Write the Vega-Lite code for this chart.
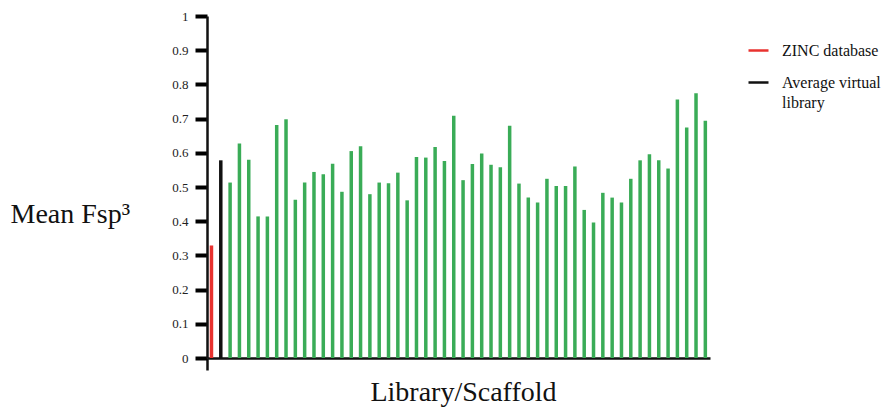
{
  "$schema": "https://vega.github.io/schema/vega-lite/v6.json",
  "width": 503,
  "height": 342,
  "autosize": {"type": "none"},
  "padding": {"left": 207, "top": 16, "right": 179, "bottom": 50},
  "background": "white",
  "config": {
    "view": {"stroke": null},
    "font": "Liberation Serif",
    "axisY": {"tickColor": "#000000", "tickSize": 12, "tickWidth": 4, "ticks": true, "tickOpacity": 1}
  },
  "data": {
    "values": [
      {"i": 0, "value": 0.329, "type": "ZINC database"},
      {"i": 1, "value": 0.578, "type": "Average virtual library"},
      {"i": 2, "value": 0.513, "type": "Library"},
      {"i": 3, "value": 0.627, "type": "Library"},
      {"i": 4, "value": 0.580, "type": "Library"},
      {"i": 5, "value": 0.414, "type": "Library"},
      {"i": 6, "value": 0.414, "type": "Library"},
      {"i": 7, "value": 0.681, "type": "Library"},
      {"i": 8, "value": 0.698, "type": "Library"},
      {"i": 9, "value": 0.463, "type": "Library"},
      {"i": 10, "value": 0.513, "type": "Library"},
      {"i": 11, "value": 0.544, "type": "Library"},
      {"i": 12, "value": 0.537, "type": "Library"},
      {"i": 13, "value": 0.568, "type": "Library"},
      {"i": 14, "value": 0.486, "type": "Library"},
      {"i": 15, "value": 0.605, "type": "Library"},
      {"i": 16, "value": 0.619, "type": "Library"},
      {"i": 17, "value": 0.479, "type": "Library"},
      {"i": 18, "value": 0.513, "type": "Library"},
      {"i": 19, "value": 0.511, "type": "Library"},
      {"i": 20, "value": 0.542, "type": "Library"},
      {"i": 21, "value": 0.461, "type": "Library"},
      {"i": 22, "value": 0.588, "type": "Library"},
      {"i": 23, "value": 0.586, "type": "Library"},
      {"i": 24, "value": 0.617, "type": "Library"},
      {"i": 25, "value": 0.576, "type": "Library"},
      {"i": 26, "value": 0.708, "type": "Library"},
      {"i": 27, "value": 0.520, "type": "Library"},
      {"i": 28, "value": 0.567, "type": "Library"},
      {"i": 29, "value": 0.598, "type": "Library"},
      {"i": 30, "value": 0.565, "type": "Library"},
      {"i": 31, "value": 0.558, "type": "Library"},
      {"i": 32, "value": 0.679, "type": "Library"},
      {"i": 33, "value": 0.510, "type": "Library"},
      {"i": 34, "value": 0.469, "type": "Library"},
      {"i": 35, "value": 0.455, "type": "Library"},
      {"i": 36, "value": 0.524, "type": "Library"},
      {"i": 37, "value": 0.503, "type": "Library"},
      {"i": 38, "value": 0.503, "type": "Library"},
      {"i": 39, "value": 0.560, "type": "Library"},
      {"i": 40, "value": 0.433, "type": "Library"},
      {"i": 41, "value": 0.396, "type": "Library"},
      {"i": 42, "value": 0.483, "type": "Library"},
      {"i": 43, "value": 0.469, "type": "Library"},
      {"i": 44, "value": 0.455, "type": "Library"},
      {"i": 45, "value": 0.524, "type": "Library"},
      {"i": 46, "value": 0.578, "type": "Library"},
      {"i": 47, "value": 0.596, "type": "Library"},
      {"i": 48, "value": 0.578, "type": "Library"},
      {"i": 49, "value": 0.554, "type": "Library"},
      {"i": 50, "value": 0.756, "type": "Library"},
      {"i": 51, "value": 0.674, "type": "Library"},
      {"i": 52, "value": 0.774, "type": "Library"},
      {"i": 53, "value": 0.694, "type": "Library"}
    ]
  },
  "mark": {"type": "bar", "size": 3.5},
  "encoding": {
    "x": {
      "field": "i",
      "type": "quantitative",
      "scale": {"domain": [-0.48, 53.5], "nice": false, "zero": false, "padding": 0},
      "axis": {
        "values": [-0.48],
        "labels": false,
        "grid": false,
        "domainColor": "#111",
        "domainWidth": 2.5,
        "ticks": true,
        "tickColor": "#111",
        "tickWidth": 2.5,
        "tickSize": 12,
        "title": "Library/Scaffold",
        "titleFont": "Liberation Serif",
        "titleFontSize": 28,
        "titleFontWeight": "normal",
        "titleColor": "#111",
        "titleBaseline": "alphabetic",
        "titleAlign": "center",
        "titleAnchor": null,
        "titleX": 256,
        "titleY": 42
      }
    },
    "y": {
      "field": "value",
      "type": "quantitative",
      "stack": null,
      "scale": {"domain": [0, 1], "nice": false},
      "axis": {
        "tickCount": 10,
        "format": ".1~f",
        "grid": false,
        "domainColor": "#111",
        "domainWidth": 2.5,
        "labelFont": "Liberation Serif",
        "labelFontSize": 13,
        "labelColor": "#222",
        "labelPadding": 7,
        "title": "Mean Fsp³",
        "titleFont": "Liberation Serif",
        "titleFontSize": 28,
        "titleFontWeight": "normal",
        "titleColor": "#111",
        "titleAngle": 0,
        "titleAlign": "left",
        "titleBaseline": "alphabetic",
        "titleAnchor": null,
        "titleX": -197,
        "titleY": 206
      }
    },
    "color": {
      "field": "type",
      "type": "nominal",
      "scale": {
        "domain": ["ZINC database", "Average virtual library", "Library"],
        "range": ["#e8322f", "#111111", "#3aac57"]
      },
      "legend": {
        "values": ["ZINC database", "Average virtual library"],
        "title": null,
        "orient": "none",
        "legendX": 540,
        "legendY": 23,
        "symbolType": "stroke",
        "symbolSize": 400,
        "symbolStrokeWidth": 2.5,
        "labelFont": "Liberation Serif",
        "labelFontSize": 16,
        "labelColor": "#111",
        "labelOffset": 12,
        "labelBaseline": "alphabetic",
        "labelLimit": 300,
        "rowPadding": 12,
        "labelExpr": "datum.label == 'Average virtual library' ? ['Average virtual', '\u00a0\u00a0library'] : datum.label",
        "encode": {
          "symbols": {"update": {"stroke": {"scale": "color", "field": "value"}, "strokeWidth": {"value": 2.5}}},
          "labels": {"update": {"dy": {"value": 5}, "lineHeight": {"value": 20}, "font": {"value": "Liberation Serif"}}}
        }
      }
    }
  }
}
